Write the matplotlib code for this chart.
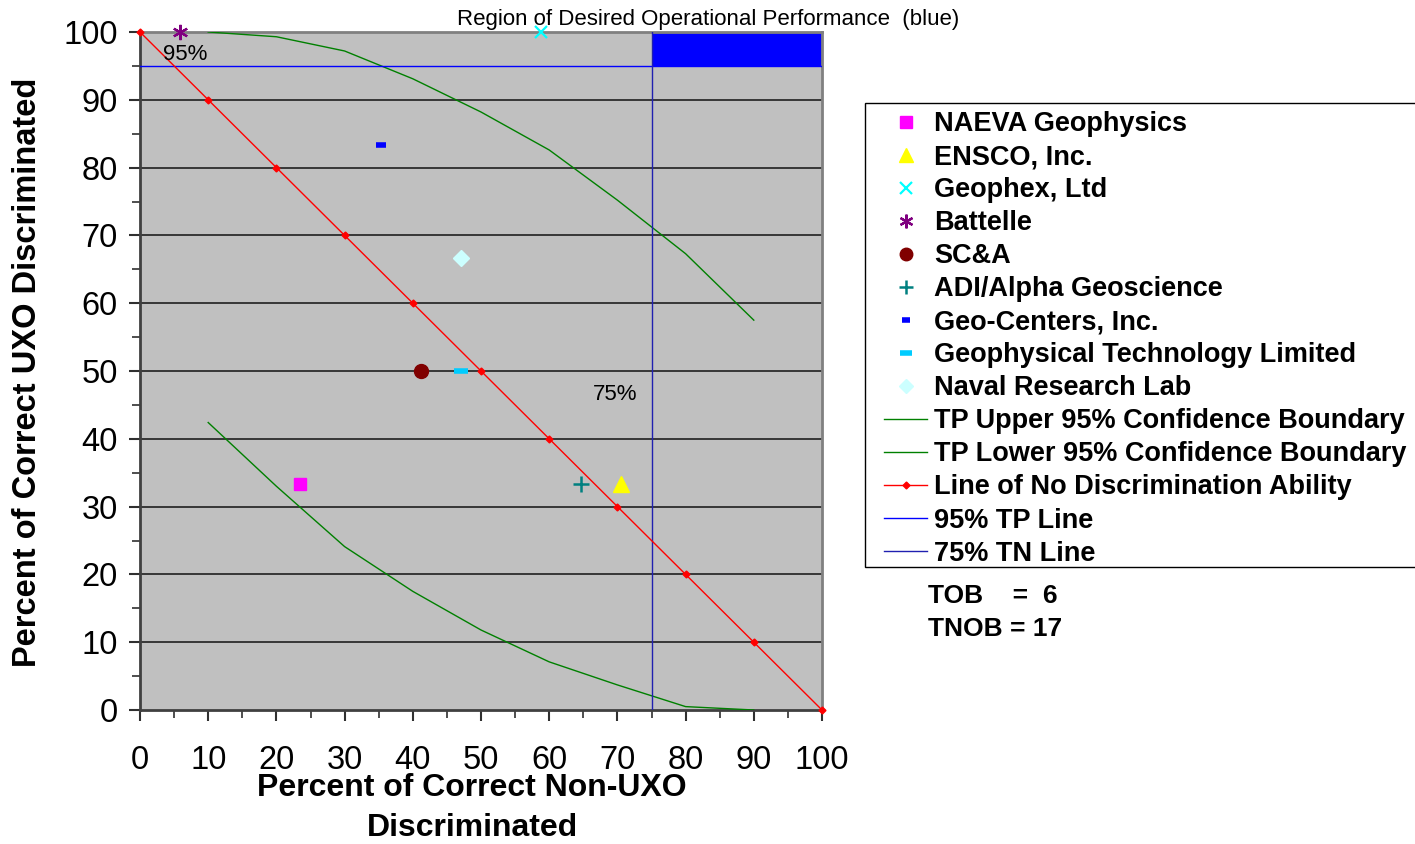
import matplotlib
matplotlib.use("Agg")
import matplotlib.pyplot as plt
from matplotlib.lines import Line2D
from matplotlib.patches import Rectangle
from matplotlib.ticker import MultipleLocator

plt.rcParams['font.family'] = ['Liberation Sans', 'DejaVu Sans']

# ---- data ----
ref_x = [0, 10, 20, 30, 40, 50, 60, 70, 80, 90, 100]
nodisc_y = [100, 90, 80, 70, 60, 50, 40, 30, 20, 10, 0]

upper_x = [10, 20, 30, 40, 50, 60, 70, 80, 90]
upper_y = [100, 99.3, 97.2, 93.1, 88.2, 82.6, 75.2, 67.3, 57.5]

lower_x = [10, 20, 30, 40, 50, 60, 70, 80, 90]
lower_y = [42.4, 33.0, 24.1, 17.5, 11.8, 7.1, 3.7, 0.5, 0.0]

performers = ["NAEVA Geophysics", "ENSCO, Inc.", "Geophex, Ltd", "Battelle", "SC&A",
              "ADI/Alpha Geoscience", "Geo-Centers, Inc.", "Geophysical Technology Limited",
              "Naval Research Lab"]
perf_x = [23.5, 70.6, 58.8, 5.9, 41.2, 64.7, 35.3, 47.1, 47.1]
perf_y = [33.3, 33.3, 100.0, 100.0, 50.0, 33.3, 83.3, 50.0, 66.7]

tp_level = 95
tn_level = 75
region_x = [75, 100]
region_y = [95, 100]

# ---- styles ----
perf_styles = [
    dict(marker='s', color='#FF00FF', ms=9, mew=1),
    dict(marker='^', color='#FFFF00', ms=11, mew=1),
    dict(marker='x', color='#00FFFF', ms=9, mew=1.6),
    dict(marker=(6, 2, 0), color='#800080', ms=11, mew=1.6),
    dict(marker='o', color='#800000', ms=10, mew=1),
    dict(marker='+', color='#008080', ms=11, mew=1.8),
    dict(marker='_', color='#0000FF', ms=7, mew=4),
    dict(marker='_', color='#00CCFF', ms=10, mew=4),
    dict(marker='D', color='#CCFFFF', ms=8, mew=1),
]

W, H = 1415, 844
fig = plt.figure(figsize=(W / 100, H / 100), dpi=100)
ax = fig.add_axes([140 / W, 1 - 710 / H, 682 / W, 678 / H])
ax.set_facecolor('#C0C0C0')
ax.set_xlim(0, 100)
ax.set_ylim(0, 100)

# blue region
ax.fill_between(region_x, region_y[0], region_y[1], color='#0000FF', lw=0, zorder=2)

# grid
for gy in range(10, 100, 10):
    ax.axhline(gy, color='#202020', lw=1.2, zorder=1)

# lines
ax.plot(upper_x, upper_y, color='#008000', lw=1, zorder=3)
ax.plot(lower_x, lower_y, color='#008000', lw=1, zorder=3)
ax.plot(ref_x, nodisc_y, color='#FF0000', lw=1, marker='D', ms=3.5, mec='#FF0000',
        zorder=4, clip_on=False)
ax.plot([0, 100], [tp_level, tp_level], color='#0000FF', lw=1, zorder=3)
ax.plot([tn_level, tn_level], [0, 100], color='#2020B0', lw=1, zorder=3)

# performers
for px, py, st in zip(perf_x, perf_y, perf_styles):
    ax.plot([px], [py], linestyle='none', marker=st['marker'], ms=st['ms'],
            mfc=st['color'], mec=st['color'], mew=st['mew'], zorder=5, clip_on=False)

ax.text(6.6, 96.7, "95%", fontsize=16, ha='center', va='center', zorder=6)
ax.text(69.6, 46.5, "75%", fontsize=16, ha='center', va='center', zorder=6)

# axes styling
ax.xaxis.set_major_locator(MultipleLocator(10))
ax.xaxis.set_minor_locator(MultipleLocator(5))
ax.yaxis.set_major_locator(MultipleLocator(10))
ax.yaxis.set_minor_locator(MultipleLocator(5))
ax.tick_params(axis='both', which='major', length=8, width=1.5, color='#303030',
               labelsize=23.5, direction='out')
ax.tick_params(axis='both', which='minor', length=6, width=1.2, color='#303030', direction='out')
ax.tick_params(axis='x', which='major', pad=17)
ax.tick_params(axis='y', which='major', pad=8)
for s in ['left', 'bottom']:
    ax.spines[s].set_color('#404040')
    ax.spines[s].set_linewidth(2)
for s in ['top', 'right']:
    ax.spines[s].set_color('#808080')
    ax.spines[s].set_linewidth(2)

# axis titles
fig.text(28 / W, 1 - 372 / H, "Percent of Correct UXO Discriminated", rotation=90,
         fontsize=23.5, fontweight='bold', ha='center', va='center')
fig.text(472 / W, 1 - 788 / H, "Percent of Correct Non-UXO", fontsize=23,
         fontweight='bold', ha='center', va='center')
fig.text(472 / W, 1 - 828 / H, "Discriminated", fontsize=23,
         fontweight='bold', ha='center', va='center')

fig.text(708 / W, 1 - 20 / H, "Region of Desired Operational Performance  (blue)",
         fontsize=16, ha='center', va='center')

# legend frame (extends past right edge as in the reference)
fig.patches.append(Rectangle((865 / W, 1 - 567 / H), 600 / W, 464 / H,
                             transform=fig.transFigure, facecolor='white',
                             edgecolor='black', lw=1, zorder=0))

handles = []
for name, st in zip(performers, perf_styles):
    handles.append(Line2D([], [], linestyle='none', marker=st['marker'], ms=st['ms'] * 0.9,
                          mfc=st['color'], mec=st['color'], mew=st['mew'], label=name))
handles.append(Line2D([], [], color='#008000', lw=1, label="TP Upper 95% Confidence Boundary"))
handles.append(Line2D([], [], color='#008000', lw=1, label="TP Lower 95% Confidence Boundary"))
handles.append(Line2D([], [], color='#FF0000', lw=1, marker='D', ms=3.5,
                      label="Line of No Discrimination Ability"))
handles.append(Line2D([], [], color='#0000FF', lw=1, label="95% TP Line"))
handles.append(Line2D([], [], color='#2020B0', lw=1, label="75% TN Line"))

leg = fig.legend(handles=handles, loc='upper left',
                 bbox_to_anchor=(884 / W, 1 - 111 / H), borderaxespad=0,
                 prop={'size': 19.5, 'weight': 'bold'}, frameon=False,
                 handlelength=1.59, handletextpad=0.26, labelspacing=0.26,
                 borderpad=0)

fig.text(928 / W, 1 - 596 / H, "TOB    =  6", fontsize=19, fontweight='bold',
         ha='left', va='center')
fig.text(928 / W, 1 - 629 / H, "TNOB = 17", fontsize=19, fontweight='bold',
         ha='left', va='center')

fig.savefig("out.png", dpi=100)
